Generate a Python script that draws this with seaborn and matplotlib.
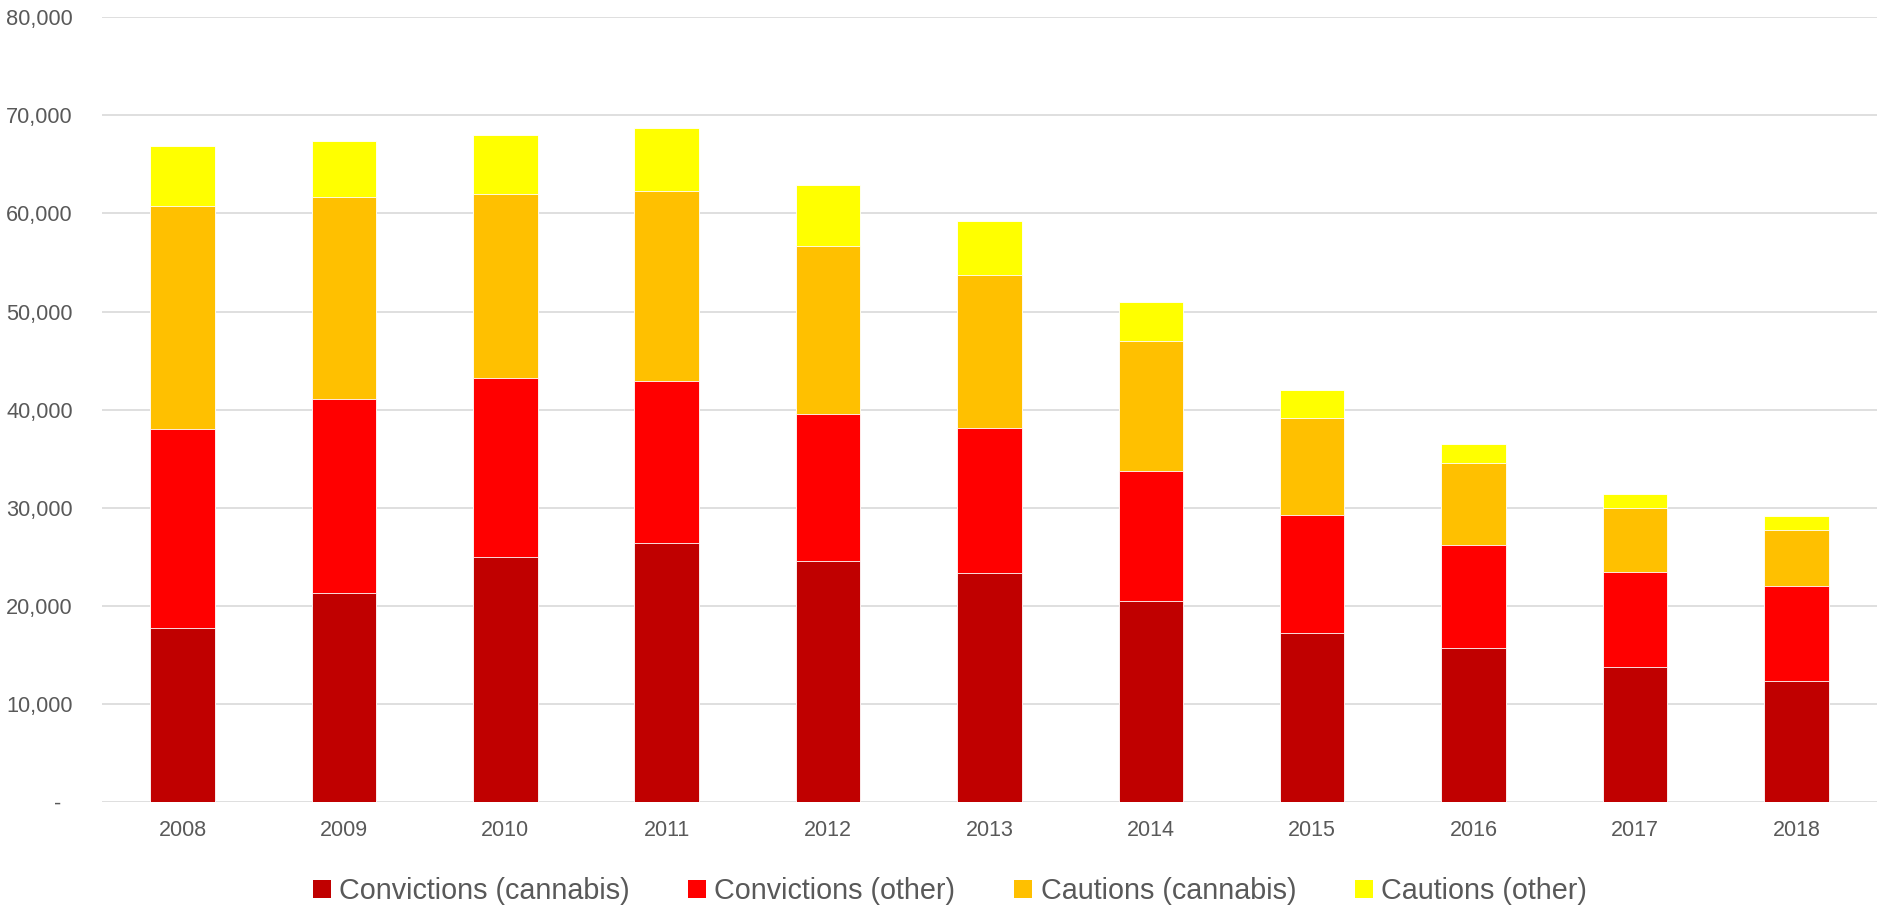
import numpy as np
import pandas as pd
import matplotlib
matplotlib.use("Agg")
import matplotlib.pyplot as plt
import seaborn as sns
from matplotlib.patches import Patch
from matplotlib.ticker import FuncFormatter

# Disposals per year, split by outcome and drug type
years = ["2008", "2009", "2010", "2011", "2012", "2013", "2014", "2015", "2016", "2017", "2018"]
convictions_cannabis = [17740, 21290, 24990, 26390, 24570, 23350, 20500, 17270, 15670, 13730, 12300]
convictions_other = [20260, 19800, 18200, 16570, 14970, 14790, 13240, 12000, 10540, 9720, 9760]
cautions_cannabis = [22790, 20630, 18810, 19370, 17130, 15630, 13240, 9890, 8390, 6530, 5680]
cautions_other = [6080, 5710, 5950, 6410, 6220, 5470, 4030, 2820, 1910, 1460, 1390]

series_names = ["Convictions (cannabis)", "Convictions (other)", "Cautions (cannabis)", "Cautions (other)"]
series_values = [convictions_cannabis, convictions_other, cautions_cannabis, cautions_other]
colors = ["#C00000", "#FF0000", "#FFC000", "#FFFF00"]

sns.set_theme(style="white")
plt.rcParams["font.family"] = ["Liberation Sans", "DejaVu Sans"]

text_color = "#595959"
grid_color = "#D9D9D9"

fig = plt.figure(figsize=(18.77, 9.07), dpi=100)
ax = fig.add_axes([0.0543, 0.1158, 0.9457, 0.8652])

# Stack by layering cumulative totals, tallest first
cumulative = np.cumsum(np.array(series_values, dtype=float), axis=0)
for i in range(len(series_names) - 1, -1, -1):
    df = pd.DataFrame({"year": years, "value": cumulative[i]})
    sns.barplot(data=df, x="year", y="value", color=colors[i], width=0.4,
                saturation=1, edgecolor="white", linewidth=0.6, ax=ax, zorder=2)

ax.set_xlim(-0.5, len(years) - 0.5)
ax.set_ylim(0, 80000)
ax.set_yticks(np.arange(0, 80001, 10000))
# Accounting-style labels: zero shown as a dash
ax.yaxis.set_major_formatter(FuncFormatter(lambda v, p: "-  " if v == 0 else f"{int(v):,}"))
ax.grid(axis="y", color=grid_color, linewidth=1.2, zorder=0)
ax.grid(axis="x", visible=False)
ax.set_axisbelow(True)
for s in ax.spines.values():
    s.set_visible(False)
ax.set_xlabel("")
ax.set_ylabel("")
ax.tick_params(axis="both", length=0, colors=text_color)
ax.tick_params(axis="y", pad=21, labelsize=15.7)
ax.tick_params(axis="x", pad=13, labelsize=15.5)

handles = [Patch(facecolor=c, edgecolor="none") for c in colors]
fig.legend(handles, series_names, loc="center", bbox_to_anchor=(0.506, 0.0176),
           ncol=4, frameon=False, fontsize=20.7, labelcolor=text_color,
           handlelength=0.63, handleheight=0.63, handletextpad=0.28, columnspacing=2.05)

fig.savefig("out.png", dpi=100)
